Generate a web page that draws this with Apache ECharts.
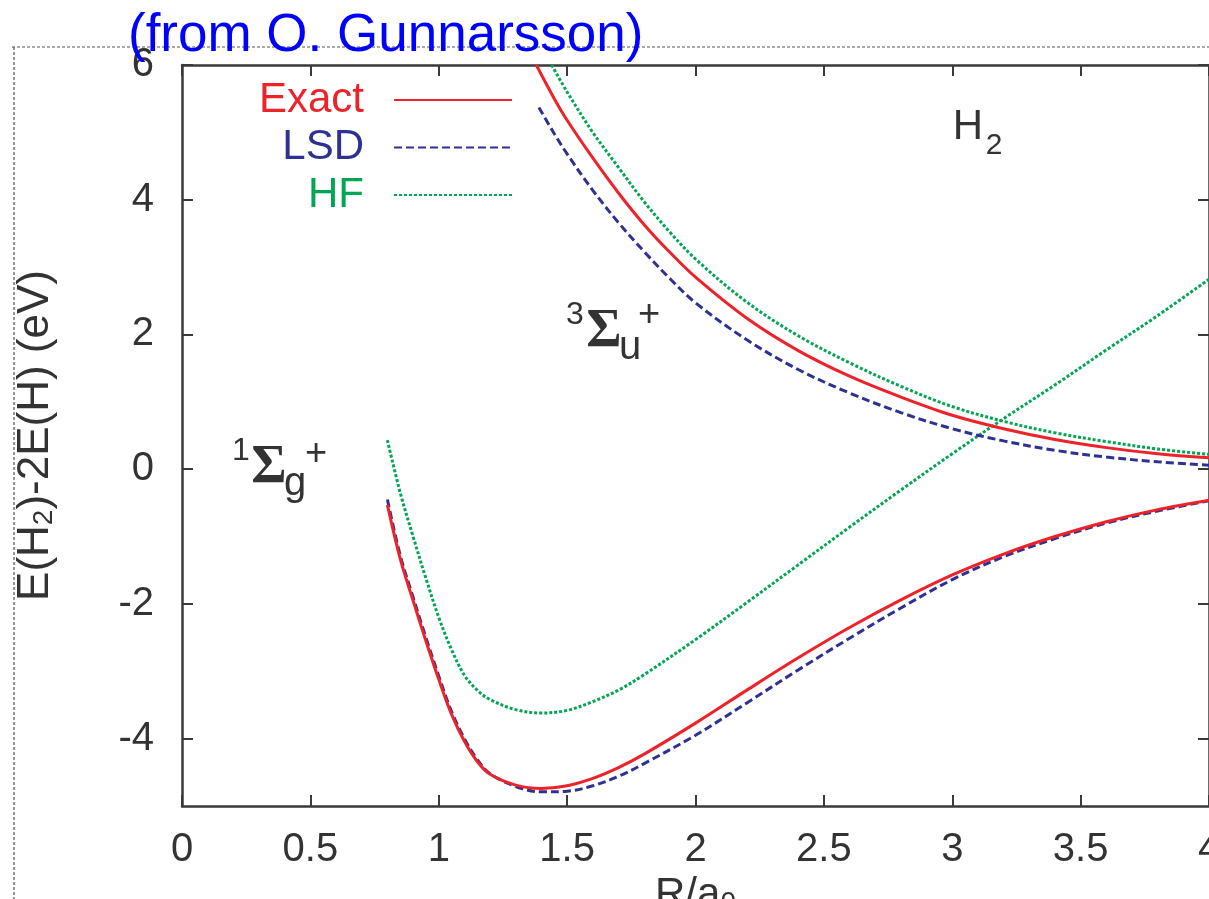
<!DOCTYPE html>
<html>
<head>
<meta charset="utf-8">
<script src="https://cdn.jsdelivr.net/npm/echarts@6/dist/echarts.min.js"></script>
<style>
html,body{margin:0;padding:0;background:#fff;}
#chart{width:1209px;height:899px;}
</style>
</head>
<body>
<div id="chart"></div>
<script>
// ---- data (R in a0, energy in eV) ----
var rSinglet = [0.8,0.85,0.9,0.95,1.0,1.05,1.1,1.15,1.2,1.3,1.4,1.5,1.6,1.7,1.8,2.0,2.2,2.4,2.6,2.8,3.0,3.2,3.4,3.6,3.8,4.0];
var exactSinglet = [-0.53,-1.33,-1.95,-2.55,-3.12,-3.64,-4.04,-4.34,-4.53,-4.69,-4.74,-4.7,-4.59,-4.43,-4.23,-3.77,-3.28,-2.8,-2.35,-1.94,-1.57,-1.26,-1.0,-0.78,-0.6,-0.46];
var lsdSinglet   = [-0.45,-1.28,-1.9,-2.5,-3.07,-3.6,-4.0,-4.31,-4.52,-4.71,-4.79,-4.78,-4.7,-4.56,-4.37,-3.95,-3.47,-2.98,-2.51,-2.06,-1.64,-1.3,-1.03,-0.8,-0.62,-0.47];
var hfSinglet    = [0.43,-0.35,-1.0,-1.62,-2.2,-2.68,-3.06,-3.28,-3.42,-3.57,-3.62,-3.58,-3.45,-3.28,-3.05,-2.53,-1.98,-1.42,-0.86,-0.31,0.23,0.75,1.25,1.77,2.28,2.82];

var rExactTriplet = [1.38,1.45,1.5,1.6,1.7,1.8,1.9,2.0,2.2,2.4,2.6,2.8,3.0,3.2,3.4,3.6,3.8,4.0];
var exactTriplet  = [6.0,5.5,5.18,4.62,4.1,3.63,3.22,2.85,2.24,1.76,1.38,1.07,0.8,0.6,0.44,0.32,0.23,0.17];
var rLsdTriplet   = [1.39,1.45,1.5,1.6,1.7,1.8,1.9,2.0,2.2,2.4,2.6,2.8,3.0,3.2,3.4,3.6,3.8,4.0];
var lsdTriplet    = [5.37,4.98,4.68,4.14,3.66,3.23,2.83,2.47,1.92,1.48,1.13,0.84,0.6,0.42,0.28,0.18,0.11,0.06];
var rHfTriplet    = [1.44,1.5,1.6,1.7,1.8,1.9,2.0,2.2,2.4,2.6,2.8,3.0,3.2,3.4,3.6,3.8,4.0];
var hfTriplet     = [6.0,5.6,5.0,4.48,3.97,3.52,3.12,2.48,1.98,1.58,1.23,0.93,0.71,0.54,0.41,0.3,0.22];

var yTickValues = [-4,-2,0,2,4,6];
var seriesNames = ['Exact','LSD','HF'];

// ---- styles ----
var RED = '#ee2229', BLUE = '#2e3192', GREEN = '#00a651';
var AXIS = '#3a3a3a', TXT = '#333333';
var FONT = 'Liberation Sans, Arial, sans-serif';

function zip(xs, ys){ return xs.map(function(x,i){ return [x, ys[i]]; }); }

function lineSeries(name, xs, ys, color, type, width, z){
  return {
    type:'line', name:name, data:zip(xs,ys), symbol:'none', smooth:0.35,
    clip:true, z:z,
    itemStyle:{color:color},
    lineStyle:{color:color, width:width, type:type},
    emphasis:{disabled:true}, animation:false
  };
}

var axisLine = {show:true, onZero:false, lineStyle:{color:AXIS, width:2.5}};
var axisTick = {show:true, inside:true, length:11, lineStyle:{color:AXIS, width:2}};

var chart = echarts.init(document.getElementById('chart'), null, {renderer:'canvas'});
chart.setOption({
  animation:false,
  backgroundColor:'#ffffff',
  title:{
    text:'(from O. Gunnarsson)', left:128, top:10, padding:0, z:10,
    textStyle:{color:'#0000ff', fontSize:53, fontWeight:'normal', fontFamily:FONT}
  },
  legend:{
    orient:'vertical', right:696, top:79, padding:0, align:'right',
    itemWidth:118, itemHeight:14, itemGap:5.5,
    itemStyle:{opacity:0},
    textStyle:{fontSize:42, lineHeight:40, fontFamily:FONT, padding:[0,25,0,0]},
    data:[
      {name:seriesNames[0], textStyle:{color:RED}},
      {name:seriesNames[1], textStyle:{color:BLUE}},
      {name:seriesNames[2], textStyle:{color:GREEN}}
    ]
  },
  grid:{left:182, right:0, top:65, bottom:93, containLabel:false, outerBoundsMode:'none'},
  xAxis:[{
    type:'value', position:'bottom', min:0, max:4, interval:0.5,
    axisLine:axisLine, axisTick:axisTick, splitLine:{show:false},
    axisLabel:{fontSize:40, color:TXT, margin:24, fontFamily:FONT},
    name:'R/a{sub|0}', nameLocation:'middle', nameGap:66,
    nameTextStyle:{fontSize:42, color:TXT, fontFamily:FONT,
      rich:{sub:{fontSize:28, color:TXT, fontFamily:FONT, verticalAlign:'bottom', lineHeight:14}}}
  },{
    type:'value', position:'top', min:0, max:4, interval:0.5,
    axisLine:axisLine, axisTick:axisTick, splitLine:{show:false}, axisLabel:{show:false}
  }],
  yAxis:[{
    type:'value', position:'left', min:-5, max:6, interval:1,
    axisLine:axisLine,
    axisTick:{show:true, inside:true, length:11, lineStyle:{color:AXIS, width:2}, customValues:yTickValues},
    splitLine:{show:false},
    axisLabel:{fontSize:40, color:TXT, margin:28, fontFamily:FONT, customValues:yTickValues},
    name:'E(H{sub|2})-2E(H) (eV)', nameLocation:'middle', nameGap:124, nameRotate:90,
    nameTextStyle:{fontSize:44, color:TXT, fontFamily:FONT, lineHeight:44,
      rich:{sub:{fontSize:28, color:TXT, fontFamily:FONT, verticalAlign:'bottom', lineHeight:12}}}
  },{
    type:'value', position:'right', min:-5, max:6, interval:1,
    axisLine:axisLine,
    axisTick:{show:true, inside:true, length:11, lineStyle:{color:AXIS, width:2}, customValues:yTickValues},
    splitLine:{show:false}, axisLabel:{show:false}
  }],
  series:[
    lineSeries(seriesNames[0], rSinglet, exactSinglet, RED, 'solid', 3, 4),
    lineSeries(seriesNames[1], rSinglet, lsdSinglet, BLUE, [8,4], 3, 3),
    lineSeries(seriesNames[2], rSinglet, hfSinglet, GREEN, [3,2], 3, 2),
    lineSeries(seriesNames[0], rExactTriplet, exactTriplet, RED, 'solid', 3, 4),
    lineSeries(seriesNames[1], rLsdTriplet, lsdTriplet, BLUE, [8,4], 3, 3),
    lineSeries(seriesNames[2], rHfTriplet, hfTriplet, GREEN, [3,2], 3, 2)
  ],
  graphic:[
    {type:'line', z:0, silent:true, shape:{x1:12,y1:47,x2:1209,y2:47}, style:{stroke:'#555', lineWidth:1.2, lineDash:[3,2]}},
    {type:'line', z:0, silent:true, shape:{x1:14,y1:47,x2:14,y2:899}, style:{stroke:'#555', lineWidth:1.2, lineDash:[3,2]}},
    // H2 label
    {type:'text', silent:true, style:{text:'H', x:968, y:127, font:'42px '+FONT, fill:TXT, textAlign:'center', textVerticalAlign:'middle'}},
    {type:'text', silent:true, style:{text:'2', x:994, y:146, font:'30px '+FONT, fill:TXT, textAlign:'center', textVerticalAlign:'middle'}},
    // triplet label
    {type:'text', silent:true, style:{text:'3', x:575, y:315, font:'32px '+FONT, fill:TXT, textAlign:'center', textVerticalAlign:'middle'}},
    {type:'text', silent:true, style:{text:'Σ', x:604, y:332, font:'bold 54px Liberation Serif, serif', fill:TXT, textAlign:'center', textVerticalAlign:'middle'}},
    {type:'text', silent:true, style:{text:'u', x:630, y:348, font:'40px '+FONT, fill:TXT, textAlign:'center', textVerticalAlign:'middle'}},
    {type:'text', silent:true, style:{text:'+', x:649, y:316, font:'38px '+FONT, fill:TXT, textAlign:'center', textVerticalAlign:'middle'}},
    // singlet label
    {type:'text', silent:true, style:{text:'1', x:241, y:451, font:'32px '+FONT, fill:TXT, textAlign:'center', textVerticalAlign:'middle'}},
    {type:'text', silent:true, style:{text:'Σ', x:269, y:468, font:'bold 54px Liberation Serif, serif', fill:TXT, textAlign:'center', textVerticalAlign:'middle'}},
    {type:'text', silent:true, style:{text:'g', x:295, y:484, font:'40px '+FONT, fill:TXT, textAlign:'center', textVerticalAlign:'middle'}},
    {type:'text', silent:true, style:{text:'+', x:316, y:455, font:'38px '+FONT, fill:TXT, textAlign:'center', textVerticalAlign:'middle'}}
  ]
});
</script>
</body>
</html>
